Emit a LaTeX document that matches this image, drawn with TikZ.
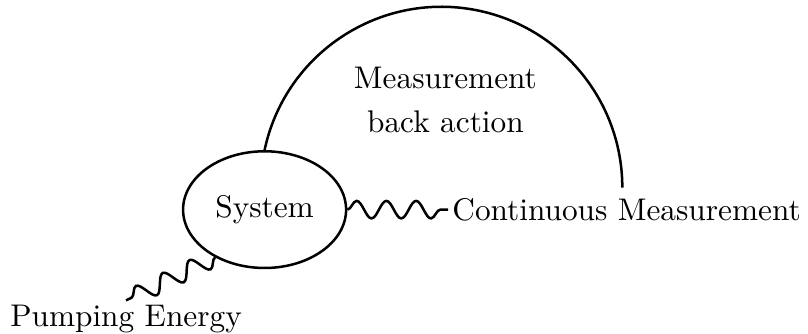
\documentclass[tikz,border=0pt]{standalone}
\usepackage{tikz}
\usetikzlibrary{shapes.geometric, decorations.pathmorphing, positioning}

\begin{document}
\begin{tikzpicture}[
    line width=0.8pt,
    sysnode/.style={ellipse, draw, minimum width=1.83cm, minimum height=1.31cm, inner sep=0pt},
    label/.style={inner sep=1pt, align=center},
    wiggle/.style={decorate, decoration={snake, segment length=9.5pt, amplitude=2.8pt}},
]
\useasboundingbox (0,0) rectangle (9.07,3.74);

% System
\node[sysnode] (sys) at (2.97,1.387) {System};

% Labels
\node[label, right=1.13cm of sys] (cont) {Continuous Measurement};
\node[label, anchor=base] (pump) at (1.415,0.079) {Pumping Energy};
\node[label] (back) at (5.0,2.62) {Measurement\\[2pt]back action};

% Back action arc
\draw (sys.north) arc[start angle=168, end angle=0, radius=2.03cm];

% Couplings
\draw[wiggle] (sys.east) -- (cont.west);
\draw[wiggle] (sys.224) -- (pump.north);

\end{tikzpicture}
\end{document}
